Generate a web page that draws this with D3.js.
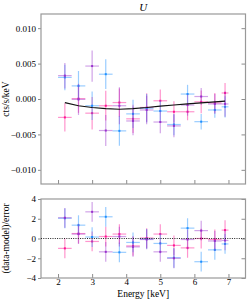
<!DOCTYPE html>
<html>
<head>
<meta charset="utf-8">
<script src="https://cdn.jsdelivr.net/npm/d3@7/dist/d3.min.js"></script>
<style>
html, body { margin: 0; padding: 0; background: #fff; }
svg text { font-family: "Liberation Serif", "Times New Roman", serif; fill: #000; }
</style>
</head>
<body>
<div id="chart"></div>
<script>
// energy bins [keV]
var energy = [2.2, 2.6, 3.0, 3.4, 3.8, 4.2, 4.6, 5.0, 5.4, 5.8, 6.2, 6.6, 6.9];
var binHalf = [0.2, 0.2, 0.2, 0.2, 0.2, 0.2, 0.2, 0.2, 0.2, 0.2, 0.2, 0.2, 0.1];

// model [cts/s/keV]
var model = [-0.0005, -0.00095, -0.0012, -0.00135, -0.00145, -0.00135, -0.0012, -0.001, -0.00085, -0.0007, -0.00055, -0.0004, -0.0003];

// three spectra: value, error, residual
var pinkVal = [-0.0026, 0.00005, -0.002, -0.00095, -0.0005, -0.0028, -0.0012, -0.00025, -0.0018, -0.0018, -0.0004, -0.00055, 0.00085];
var pinkErr = [0.002, 0.002, 0.0023, 0.0021, 0.002, 0.002, 0.002, 0.0016, 0.0015, 0.0012, 0.0016, 0.0014, 0.0014];
var pinkRes = [-1.0, 0.5, -0.3, 0.2, 0.45, -0.75, 0.05, 0.45, -0.7, -0.95, 0.0, -0.1, 0.85];

var purpleVal = [0.0033, -0.00005, 0.00465, -0.00445, -0.00095, -0.0031, -0.00155, -0.00325, -0.0038, -0.00085, 0.00035, -0.0007, -0.0007];
var purpleErr = [0.0018, 0.0022, 0.0022, 0.0022, 0.0026, 0.002, 0.002, 0.0016, 0.0016, 0.0015, 0.0012, 0.0014, 0.0018];
var purpleRes = [2.1, 0.45, 2.7, -1.35, 0.2, -0.85, -0.1, -1.35, -2.0, -0.1, 0.8, -0.25, -0.2];

var blueVal = [0.00305, 0.00185, -0.00095, 0.0035, -0.0045, -0.0021, -0.0013, -0.0017, -0.0036, 0.0007, -0.0032, -0.00155, -0.0011];
var blueErr = [0.0018, 0.0021, 0.002, 0.0021, 0.0021, 0.002, 0.002, 0.0015, 0.0015, 0.0013, 0.0011, 0.0011, 0.0015];
var blueRes = [2.05, 1.35, 0.15, 2.2, -1.4, -0.4, -0.05, -0.5, -1.95, 1.05, -2.35, -1.15, -0.55];

var xTicks = [2, 3, 4, 5, 6, 7];
var yTicksTop = [-0.01, -0.005, 0, 0.005, 0.01];
var yTicksBottom = [-4, -2, 0, 2, 4];

class Spectrum {
    constructor(option) {
        for (let [key, value] of Object.entries(option)) {
            this[key] = value;
        }
        this.left = 41;
        this.right = 245.5;
        this.svg = null;
        this.x = d3.scaleLinear().domain([1.5, 7.5]).range([this.left, this.right]);
        this.creatSvg();
        this.drawTop();
        this.drawBottom();
    }
    creatSvg() {
        this.svg = d3.select(this.ele)
            .append('svg')
            .attr('width', this.width)
            .attr('height', this.height);
    }
    frame(top, bottom, y, yTicks, fmt, labels) {
        var svg = this.svg;
        var g = svg.append('g');
        // left: outward ticks with labels
        g.append('g')
            .attr('transform', `translate(${this.left},0)`)
            .call(d3.axisLeft(y).tickValues(yTicks).tickSize(3).tickPadding(2).tickFormat(fmt));
        // right: inward ticks
        g.append('g')
            .attr('transform', `translate(${this.right},0)`)
            .call(d3.axisRight(y).tickValues(yTicks).tickSize(-4).tickFormat(''));
        // bottom: inward ticks
        g.append('g')
            .attr('transform', `translate(0,${bottom})`)
            .call(d3.axisBottom(this.x).tickValues(xTicks).tickSize(-4).tickPadding(1)
                .tickFormat(labels ? d3.format('d') : ''));
        g.selectAll('.domain').remove();
        g.selectAll('.tick line').attr('stroke', '#8c8c8c').attr('stroke-width', 1);
        g.selectAll('.tick text').attr('font-size', 9).attr('font-family', '"Liberation Serif", serif');
        svg.append('rect')
            .attr('x', this.left).attr('y', top)
            .attr('width', this.right - this.left).attr('height', bottom - top)
            .attr('fill', 'none').attr('stroke', '#999').attr('stroke-width', 1.2);
    }
    points(layer, y, vals, errs, color) {
        var x = this.x;
        var data = energy.map(function(e, i) {
            return { e: e, h: binHalf[i], v: vals[i], err: errs[i] };
        });
        var g = layer.append('g').attr('stroke', color).attr('stroke-width', 1.2);
        g.selectAll('line.h').data(data).enter().append('line')
            .attr('class', 'h')
            .attr('x1', function(d) { return x(d.e - d.h); })
            .attr('x2', function(d) { return x(d.e + d.h); })
            .attr('y1', function(d) { return y(d.v); })
            .attr('y2', function(d) { return y(d.v); })
            .attr('stroke-opacity', 0.45);
        g.selectAll('line.v').data(data).enter().append('line')
            .attr('class', 'v')
            .attr('x1', function(d) { return x(d.e); })
            .attr('x2', function(d) { return x(d.e); })
            .attr('y1', function(d) { return y(d.v - d.err); })
            .attr('y2', function(d) { return y(d.v + d.err); })
            .attr('stroke-opacity', 0.45);
        g.selectAll('rect').data(data).enter().append('rect')
            .attr('x', function(d) { return x(d.e) - 1; })
            .attr('y', function(d) { return y(d.v) - 1; })
            .attr('width', 2).attr('height', 2)
            .attr('stroke', 'none').attr('fill', color);
    }
    drawTop() {
        var top = 14, bottom = 184;
        var y = d3.scaleLinear().domain([-0.012, 0.012]).range([bottom, top]);
        this.frame(top, bottom, y, yTicksTop, d3.format('.3f'), false);

        var layer = this.svg.append('g');
        this.points(layer, y, pinkVal, pinkErr, '#ff1493');
        this.points(layer, y, blueVal, blueErr, '#1e90ff');
        this.points(layer, y, purpleVal, purpleErr, '#9932cc');

        var x = this.x;
        var line = d3.line()
            .x(function(d, i) { return x(energy[i]); })
            .y(function(d) { return y(d); });
        layer.append('path')
            .datum(model)
            .attr('d', line)
            .attr('fill', 'none')
            .attr('stroke', '#111')
            .attr('stroke-width', 1.2);

        this.svg.append('text')
            .attr('x', (this.left + this.right) / 2).attr('y', 11)
            .attr('text-anchor', 'middle')
            .attr('font-size', 11).attr('font-style', 'italic')
            .text('U');
        this.svg.append('text')
            .attr('transform', `translate(9,${(top + bottom) / 2}) rotate(-90)`)
            .attr('text-anchor', 'middle')
            .attr('font-size', 9.5)
            .text('cts/s/keV');
    }
    drawBottom() {
        var top = 199, bottom = 278;
        var y = d3.scaleLinear().domain([-4, 4]).range([bottom, top]);
        this.frame(top, bottom, y, yTicksBottom, d3.format('d'), true);

        var layer = this.svg.append('g');
        var ones = energy.map(function() { return 1; });
        this.points(layer, y, pinkRes, ones, '#ff1493');
        this.points(layer, y, blueRes, ones, '#1e90ff');
        this.points(layer, y, purpleRes, ones, '#9932cc');

        layer.append('line')
            .attr('x1', this.left).attr('x2', this.right)
            .attr('y1', y(0)).attr('y2', y(0))
            .attr('stroke', '#222').attr('stroke-width', 1)
            .attr('stroke-dasharray', '1,1.3');

        this.svg.append('text')
            .attr('transform', `translate(9,${(top + bottom) / 2}) rotate(-90)`)
            .attr('text-anchor', 'middle')
            .attr('font-size', 9.5)
            .text('(data-model)/error');
        this.svg.append('text')
            .attr('x', (this.left + this.right) / 2).attr('y', 297)
            .attr('text-anchor', 'middle')
            .attr('font-size', 9.5)
            .text('Energy [keV]');
    }
}

var chart = new Spectrum({
    ele: document.getElementById('chart'),
    width: 249,
    height: 301
});
</script>
</body>
</html>
